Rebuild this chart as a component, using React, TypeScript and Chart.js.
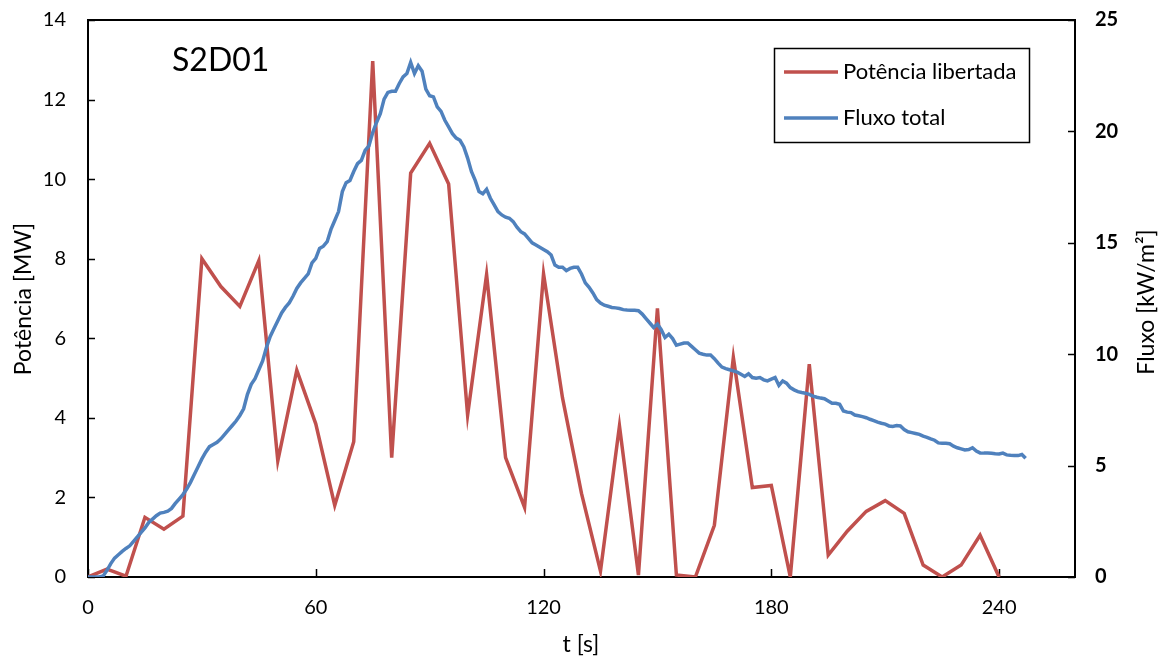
import React, { useEffect, useRef } from "react";
import { Chart, registerables } from "chart.js";

Chart.register(...registerables);

// Potência libertada [MW], every 5 s
const powerT = [0, 5, 10, 15, 20, 25, 30, 35, 40, 45, 50, 55, 60, 65, 70, 75, 80, 85, 90, 95, 100, 105, 110, 115, 120, 125, 130, 135, 140, 145, 150, 155, 160, 165, 170, 175, 180, 185, 190, 195, 200, 205, 210, 215, 220, 225, 230, 235, 240];
const powerMW = [0, 0.2, 0.02, 1.5, 1.2, 1.53, 8.0, 7.3, 6.8, 7.95, 2.92, 5.2, 3.85, 1.8, 3.4, 12.97, 3.0, 10.15, 10.9, 9.88, 4.07, 7.6, 3.0, 1.75, 7.62, 4.5, 2.1, 0.15, 3.8, 0.05, 6.75, 0.05, 0.0, 1.3, 5.52, 2.25, 2.3, 0.0, 5.35, 0.55, 1.15, 1.65, 1.92, 1.6, 0.3, 0.0, 0.3, 1.05, 0.0];

// Fluxo total [kW/m²], every 1 s
const fluxT = [
  0, 1, 2, 3, 4, 5, 6, 7, 8, 9, 10, 11, 12, 13, 14, 15, 16, 17, 18, 19,
  20, 21, 22, 23, 24, 25, 26, 27, 28, 29, 30, 31, 32, 33, 34, 35, 36, 37, 38, 39,
  40, 41, 42, 43, 44, 45, 46, 47, 48, 49, 50, 51, 52, 53, 54, 55, 56, 57, 58, 59,
  60, 61, 62, 63, 64, 65, 66, 67, 68, 69, 70, 71, 72, 73, 74, 75, 76, 77, 78, 79,
  80, 81, 82, 83, 84, 85, 86, 87, 88, 89, 90, 91, 92, 93, 94, 95, 96, 97, 98, 99,
  100, 101, 102, 103, 104, 105, 106, 107, 108, 109, 110, 111, 112, 113, 114, 115, 116, 117, 118, 119,
  120, 121, 122, 123, 124, 125, 126, 127, 128, 129, 130, 131, 132, 133, 134, 135, 136, 137, 138, 139,
  140, 141, 142, 143, 144, 145, 146, 147, 148, 149, 150, 151, 152, 153, 154, 155, 156, 157, 158, 159,
  160, 161, 162, 163, 164, 165, 166, 167, 168, 169, 170, 171, 172, 173, 174, 175, 176, 177, 178, 179,
  180, 181, 182, 183, 184, 185, 186, 187, 188, 189, 190, 191, 192, 193, 194, 195, 196, 197, 198, 199,
  200, 201, 202, 203, 204, 205, 206, 207, 208, 209, 210, 211, 212, 213, 214, 215, 216, 217, 218, 219,
  220, 221, 222, 223, 224, 225, 226, 227, 228, 229, 230, 231, 232, 233, 234, 235, 236, 237, 238, 239,
  240, 241, 242, 243, 244, 245, 246, 247,
];
const fluxKW = [
  0, 0, 0, 0, 0.05, 0.3, 0.6, 0.85, 1.0, 1.15, 1.28, 1.4, 1.6, 1.8, 2.0, 2.2, 2.45, 2.6, 2.75, 2.87,
  2.9, 2.95, 3.08, 3.3, 3.5, 3.7, 3.95, 4.25, 4.6, 4.95, 5.3, 5.6, 5.85, 5.95, 6.05, 6.2, 6.4, 6.6, 6.8, 7.0,
  7.25, 7.55, 8.2, 8.65, 8.9, 9.3, 9.7, 10.3, 10.8, 11.15, 11.5, 11.85, 12.1, 12.3, 12.6, 12.95, 13.2, 13.4, 13.6, 14.1,
  14.3, 14.75, 14.85, 15.05, 15.6, 16.0, 16.4, 17.3, 17.7, 17.8, 18.2, 18.55, 18.7, 19.15, 19.35, 19.95, 20.4, 20.8, 21.45, 21.75,
  21.8, 21.8, 22.15, 22.45, 22.6, 23.1, 22.6, 22.95, 22.7, 21.9, 21.6, 21.55, 21.1, 20.9, 20.5, 20.2, 19.9, 19.7, 19.6, 19.3,
  18.8, 18.2, 17.8, 17.3, 17.2, 17.4, 17.0, 16.7, 16.4, 16.25, 16.15, 16.1, 15.95, 15.7, 15.5, 15.4, 15.2, 15.0, 14.9, 14.8,
  14.7, 14.6, 14.45, 14.0, 13.9, 13.9, 13.75, 13.85, 13.9, 13.9, 13.6, 13.2, 13.0, 12.75, 12.45, 12.3, 12.2, 12.15, 12.1, 12.08,
  12.05, 12.0, 11.98, 11.97, 11.97, 11.95, 11.8, 11.6, 11.4, 11.2, 11.35, 11.1, 10.75, 10.9, 10.7, 10.4, 10.45, 10.5, 10.5, 10.35,
  10.2, 10.05, 10.0, 9.96, 9.96, 9.8, 9.6, 9.42, 9.35, 9.3, 9.25, 9.2, 9.1, 9.0, 9.12, 8.95, 8.92, 8.95, 8.85, 8.8,
  8.88, 8.95, 8.6, 8.8, 8.7, 8.5, 8.4, 8.32, 8.28, 8.25, 8.2, 8.12, 8.07, 8.03, 8.0, 7.9, 7.8, 7.8, 7.75, 7.45,
  7.4, 7.38, 7.27, 7.24, 7.2, 7.15, 7.08, 7.02, 6.95, 6.9, 6.86, 6.78, 6.76, 6.8, 6.78, 6.62, 6.52, 6.48, 6.44, 6.4,
  6.32, 6.27, 6.2, 6.14, 6.02, 6.0, 6.0, 5.98, 5.87, 5.8, 5.75, 5.7, 5.72, 5.8, 5.65, 5.57, 5.56, 5.56, 5.55, 5.53,
  5.52, 5.56, 5.48, 5.46, 5.45, 5.45, 5.5, 5.33,
];

const xTicks = [0, 60, 120, 180, 240];
const leftTicks = [0, 2, 4, 6, 8, 10, 12, 14];
const rightTicks = [0, 5, 10, 15, 20, 25];

const chartTitle = "S2D01";
const xTitle = "t [s]";
const leftTitle = "Potência [MW]";
const rightTitle = "Fluxo [kW/m²]";
const powerLabel = "Potência libertada";
const fluxLabel = "Fluxo total";

const RED = "#C0504D";
const BLUE = "#4F81BD";
const FONT = "Lato, 'Open Sans', sans-serif";

const framePlugin = {
  id: "frame",
  beforeDatasetsDraw(chart: any) {
    const { ctx, chartArea: a, scales } = chart;
    ctx.save();
    ctx.strokeStyle = "#000";
    ctx.lineWidth = 2;
    ctx.strokeRect(a.left, a.top, a.right - a.left, a.bottom - a.top);
    ctx.lineWidth = 1.5;
    ctx.beginPath();
    leftTicks.forEach((v) => {
      const y = Math.round(scales.y.getPixelForValue(v)) + 0.5;
      ctx.moveTo(a.left, y);
      ctx.lineTo(a.left + 7, y);
    });
    rightTicks.forEach((v) => {
      const y = Math.round(scales.y1.getPixelForValue(v)) + 0.5;
      ctx.moveTo(a.right, y);
      ctx.lineTo(a.right - 7, y);
    });
    xTicks.forEach((v) => {
      const x = Math.round(scales.x.getPixelForValue(v)) + 0.5;
      ctx.moveTo(x, a.bottom);
      ctx.lineTo(x, a.bottom - 8);
    });
    ctx.stroke();
    ctx.restore();
  },
  afterDraw(chart: any) {
    const { ctx } = chart;
    ctx.save();
    ctx.fillStyle = "#000";
    // chart title
    ctx.font = `32px ${FONT}`;
    ctx.textAlign = "left";
    ctx.textBaseline = "middle";
    ctx.fillText(chartTitle, 172, 61);
    // x title
    ctx.font = `23px ${FONT}`;
    ctx.textAlign = "center";
    ctx.fillText(xTitle, 581, 645);
    // left title
    ctx.save();
    ctx.translate(24, 299);
    ctx.rotate(-Math.PI / 2);
    ctx.fillText(leftTitle, 0, 0);
    ctx.restore();
    // right title
    ctx.save();
    ctx.translate(1147, 302);
    ctx.rotate(-Math.PI / 2);
    ctx.fillText(rightTitle, 0, 0);
    ctx.restore();
    // legend
    ctx.fillStyle = "#fff";
    ctx.fillRect(774, 48, 255, 94);
    ctx.strokeStyle = "#000";
    ctx.lineWidth = 1.5;
    ctx.strokeRect(774.5, 48.5, 255, 94);
    const rows = [
      { label: powerLabel, color: RED, y: 72 },
      { label: fluxLabel, color: BLUE, y: 118 },
    ];
    rows.forEach((r) => {
      ctx.strokeStyle = r.color;
      ctx.lineWidth = 3.5;
      ctx.beginPath();
      ctx.moveTo(784, r.y);
      ctx.lineTo(838, r.y);
      ctx.stroke();
      ctx.fillStyle = "#000";
      ctx.font = `22px ${FONT}`;
      ctx.textAlign = "left";
      ctx.textBaseline = "middle";
      ctx.fillText(r.label, 843, r.y);
    });
    ctx.restore();
  },
};

const noPadY = (s: any, w: number) => {
  s.width = w;
  s.paddingTop = 0;
  s.paddingBottom = 0;
};

export default function App() {
  const ref = useRef<HTMLCanvasElement | null>(null);
  useEffect(() => {
    if (!ref.current) return;
    const chart = new Chart(ref.current, {
      type: "line",
      data: {
        datasets: [
          {
            label: powerLabel,
            data: powerT.map((t, i) => ({ x: t, y: powerMW[i] })),
            borderColor: RED,
            backgroundColor: RED,
            borderWidth: 3.5,
            pointRadius: 0,
            tension: 0,
            yAxisID: "y",
            order: 1,
          },
          {
            label: fluxLabel,
            data: fluxT.map((t, i) => ({ x: t, y: fluxKW[i] })),
            borderColor: BLUE,
            backgroundColor: BLUE,
            borderWidth: 3.5,
            pointRadius: 0,
            tension: 0,
            yAxisID: "y1",
            order: 0,
          },
        ],
      },
      options: {
        animation: false,
        responsive: true,
        maintainAspectRatio: false,
        layout: { padding: { top: 20, left: 0, right: 0, bottom: 0 } },
        plugins: { legend: { display: false }, tooltip: { enabled: false } },
        scales: {
          x: {
            type: "linear",
            min: 0,
            max: 260,
            grid: { display: false, drawTicks: false },
            border: { display: false },
            afterBuildTicks: (s: any) => {
              s.ticks = xTicks.map((v) => ({ value: v }));
            },
            afterFit: (s: any) => {
              s.height = 83;
              s.paddingLeft = 0;
              s.paddingRight = 0;
            },
            ticks: {
              color: "#000",
              padding: 19,
              maxRotation: 0,
              font: { family: FONT, size: 20 },
            },
          },
          y: {
            type: "linear",
            position: "left",
            min: 0,
            max: 14,
            grid: { display: false, drawTicks: false },
            border: { display: false },
            afterBuildTicks: (s: any) => {
              s.ticks = leftTicks.map((v) => ({ value: v }));
            },
            afterFit: (s: any) => noPadY(s, 88),
            ticks: {
              color: "#000",
              padding: 22,
              font: { family: FONT, size: 20 },
            },
          },
          y1: {
            type: "linear",
            position: "right",
            min: 0,
            max: 25,
            grid: { display: false, drawTicks: false },
            border: { display: false },
            afterBuildTicks: (s: any) => {
              s.ticks = rightTicks.map((v) => ({ value: v }));
            },
            afterFit: (s: any) => noPadY(s, 89),
            ticks: {
              color: "#000",
              padding: 20,
              font: { family: FONT, size: 20, weight: "bold" },
            },
          },
        },
      },
      plugins: [framePlugin],
    });
    return () => chart.destroy();
  }, []);

  return (
    <div style={{ position: "fixed", left: 0, top: 0, width: 1164, height: 660, background: "#fff" }}>
      <canvas ref={ref} />
    </div>
  );
}
